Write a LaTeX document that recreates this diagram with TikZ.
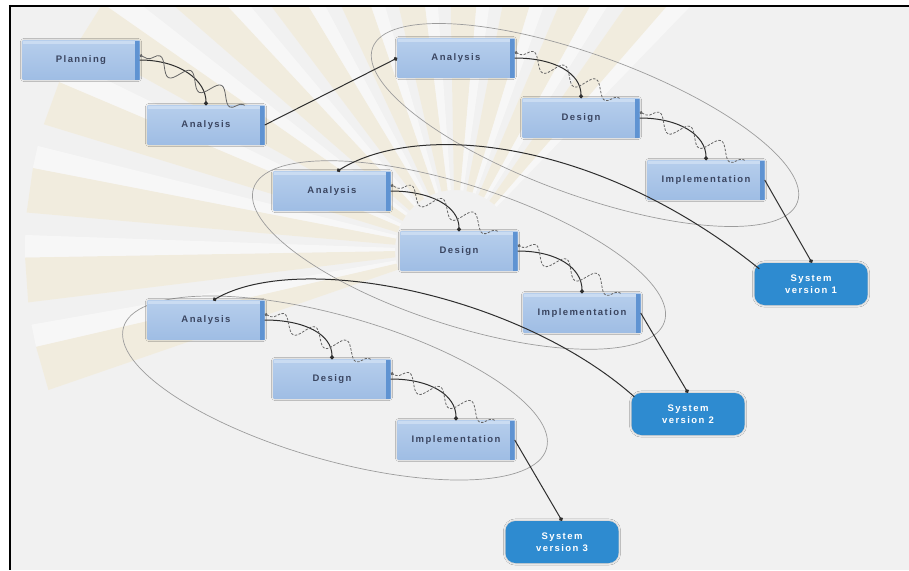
\documentclass[tikz,border=0pt]{standalone}
\usepackage{fontspec}
\setmainfont{Liberation Sans}
\usetikzlibrary{arrows.meta,decorations.pathmorphing,shadows.blur,calc}

\definecolor{pagebg}{HTML}{F1F1F1}
\definecolor{boxtop}{HTML}{B6CEEC}
\definecolor{boxbot}{HTML}{9FBDE4}
\definecolor{boxside}{HTML}{5F93D2}
\definecolor{boxlight}{HTML}{CADCF2}
\definecolor{boxtext}{HTML}{3A4560}
\definecolor{sysblue}{HTML}{2E8BD0}
\definecolor{linegray}{HTML}{2E2E2E}
\definecolor{wavegray}{HTML}{666666}
\definecolor{ringgray}{HTML}{9C9C9C}
\definecolor{rayyellow}{HTML}{F2DE9C}

\tikzset{
  phasebox/.style={rectangle, minimum width=117pt, minimum height=39pt,
    inner sep=0pt, top color=boxtop, bottom color=boxbot, draw=none,
    text=boxtext,
    font={\fontsize{9.5}{11}\selectfont\bfseries\addfontfeature{LetterSpace=15}},
    blur shadow={shadow blur steps=6, shadow xshift=0pt, shadow yshift=0pt,
      shadow opacity=25, shadow blur extra rounding=2pt},
    path picture={
      \fill[boxlight] (path picture bounding box.north west) rectangle
        ([yshift=-3pt]path picture bounding box.north east);
      \fill[boxside] ([xshift=-5pt]path picture bounding box.north east)
        rectangle (path picture bounding box.south east);
    }},
  sysbox/.style={rectangle, rounded corners=10pt, minimum width=113pt,
    minimum height=42pt, inner sep=0pt, fill=sysblue, draw=none,
    text=white, align=center,
    font={\fontsize{9.5}{11.5}\selectfont\bfseries\addfontfeature{LetterSpace=15}},
    blur shadow={shadow blur steps=6, shadow xshift=0pt, shadow yshift=0pt,
      shadow opacity=25}},
  flow/.style={draw=linegray, line width=1pt, -{Circle[length=4pt]}},
  wave/.style={draw=wavegray, line width=0.8pt, -{Circle[length=3pt]},
    decorate, decoration={snake, segment length=34pt, amplitude=8pt,
      pre length=2pt, post length=3pt}},
  dashwave/.style={wave, dash pattern=on 2.5pt off 1.5pt},
  ring/.style={draw=ringgray, line width=0.7pt},
}

\begin{document}
\begin{tikzpicture}[x=1pt,y=-1pt]
  % page and frame
  \fill[white] (0,0) rectangle (909,570);
  \useasboundingbox (0,0) rectangle (909,570);
  \fill[pagebg] (10,6) rectangle (909,570);

  % faint sunburst behind the diagram
  \begin{scope}
    \clip (10,6) rectangle (909,570);
    \coordinate (wm) at (455,250);
    \foreach \a in {164,176,...,312} {
      \fill[rayyellow, opacity=0.22]
        ($(wm)+(\a-3:60)$) -- ($(wm)+(\a-3:430)$) --
        ($(wm)+(\a+3:430)$) -- ($(wm)+(\a+3:60)$) -- cycle;
      \fill[white, opacity=0.45]
        ($(wm)+(\a+3:60)$) -- ($(wm)+(\a+3:430)$) --
        ($(wm)+(\a+6:430)$) -- ($(wm)+(\a+6:60)$) -- cycle;
    }
  \end{scope}

  \draw[line width=2.5pt, black] (8.75,6) -- (909,6);
  \draw[line width=2.5pt, black] (10,4.75) -- (10,570);

  % iteration outlines
  \draw[ring, rotate around={-20:(585,125)}] (585,125) ellipse [x radius=226, y radius=70];
  \draw[ring, rotate around={-18:(459,255)}] (459,255) ellipse [x radius=216, y radius=70];
  \draw[ring, rotate around={-16:(335,388)}] (335,388) ellipse [x radius=220, y radius=72];

  % phases
  \node[phasebox] (P)  at (81,60)   {Planning};
  \node[phasebox] (A0) at (206,125) {Analysis};

  \node[phasebox] (A1) at (456,58)  {Analysis};
  \node[phasebox] (D1) at (581,118) {Design};
  \node[phasebox] (I1) at (706,180) {Implementation};

  \node[phasebox] (A2) at (332,191) {Analysis};
  \node[phasebox] (D2) at (459,251) {Design};
  \node[phasebox] (I2) at (582,313) {Implementation};

  \node[phasebox] (A3) at (206,320) {Analysis};
  \node[phasebox] (D3) at (332,379) {Design};
  \node[phasebox] (I3) at (456,440) {Implementation};

  \node[sysbox] (S1) at (811,284) {System\\version 1};
  \node[sysbox] (S2) at (688,414) {System\\version 2};
  \node[sysbox] (S3) at (562,542) {System\\version 3};

  % planning to analysis
  \draw[flow] (P.east) .. controls ($(P.east)+(40,0)$) and ($(A0.north)+(0,-25)$) .. (A0.north);
  \draw[wave] ($(A0.north east)+(-20,0)$) -- ($(P.east)+(0,-5)$);
  \draw[flow] (A0.east) -- (A1.west);

  % forward steps and returning waves in each iteration
  \foreach \s/\t in {A1/D1, D1/I1, A2/D2, D2/I2, A3/D3, D3/I3} {
    \draw[flow] (\s.east) .. controls ($(\s.east)+(40,0)$) and ($(\t.north)+(0,-25)$) .. (\t.north);
    \draw[dashwave] ($(\t.north east)+(-20,0)$) -- ($(\s.east)+(0,-6)$);
  }

  % releases
  \draw[flow] (I1.east) -- ($(S1.north)+(1,0)$);
  \draw[flow] (I2.east) -- (S2.north);
  \draw[flow] (I3.east) -- (S3.north);

  % feedback into the next iteration
  \draw[flow] ($(S1.north west)+(5,6)$) .. controls (600,140) and (420,120) .. ($(A2.north)+(5,0)$);
  \draw[flow] ($(S2.north west)+(3,4)$) .. controls (520,295) and (300,250) .. ($(A3.north)+(7,0)$);
\end{tikzpicture}
\end{document}
